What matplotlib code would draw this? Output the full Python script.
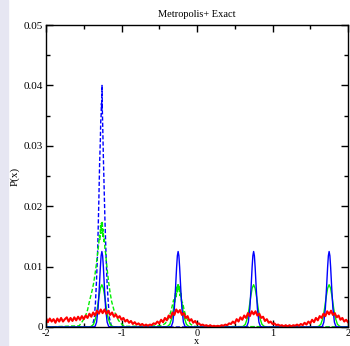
#=================================================================#
#==== Metropolis sampling vs exact distribution P(x) =============#
#=================================================================#
import matplotlib
matplotlib.use('Agg')
import matplotlib.pyplot as plt
import numpy as np

############################## some plot configurations ###################
plt.rc('font', family='Liberation Serif')
plt.rc('axes', labelsize=8, linewidth=1.0, unicode_minus=False)
plt.rc('xtick', labelsize=8, direction='in', top=True)
plt.rc('ytick', labelsize=8, direction='in', right=True)

#------------- peak positions -------------
centres = [-1.26, -0.25, 0.75, 1.75]

#------------- exact (blue solid) : one peak profile -------------
blue_off = [-0.12, -0.09, -0.07, -0.05, -0.035, -0.02, -0.01, 0.0,
            0.01, 0.02, 0.035, 0.05, 0.07, 0.09, 0.12]
blue_val = [0.0, 0.0001, 0.0008, 0.0031, 0.0063, 0.0099, 0.0118, 0.0125,
            0.0118, 0.0099, 0.0063, 0.0031, 0.0008, 0.0001, 0.0]

#------------- green solid : one peak profile -------------
green_off = [-0.18, -0.14, -0.11, -0.08, -0.06, -0.04, -0.02, 0.0,
             0.02, 0.04, 0.06, 0.08, 0.11, 0.14, 0.18]
green_val = [0.0, 0.0001, 0.00045, 0.0016, 0.0031, 0.0049, 0.0064, 0.0070,
             0.0064, 0.0049, 0.0031, 0.0016, 0.00045, 0.0001, 0.0]

#------------- blue dashed : single tall peak (first well only) -------------
bdash_off = [-0.13, -0.10, -0.085, -0.07, -0.055, -0.04, -0.03, -0.02, -0.015,
             -0.01, -0.006, -0.002, 0.002, 0.006, 0.01, 0.015, 0.02, 0.03,
             0.04, 0.055, 0.07, 0.085, 0.10, 0.13]
bdash_val = [0.0, 0.0015, 0.004, 0.008, 0.013, 0.021, 0.027, 0.031, 0.034,
             0.035, 0.037, 0.036, 0.040, 0.036, 0.034, 0.031, 0.028, 0.023,
             0.018, 0.012, 0.007, 0.004, 0.0015, 0.0]

#------------- green dashed : first and second well -------------
gdash1_off = [-0.30, -0.26, -0.22, -0.19, -0.16, -0.13, -0.11, -0.09, -0.075,
              -0.06, -0.05, -0.04, -0.032, -0.025, -0.018, -0.012, -0.006, 0.0,
              0.006, 0.012, 0.018, 0.025, 0.032, 0.04, 0.05, 0.06, 0.075,
              0.09, 0.11, 0.13, 0.16, 0.19, 0.22, 0.26, 0.30]
gdash1_val = [0.0002, 0.0009, 0.0017, 0.0028, 0.0045, 0.0060, 0.0072, 0.0088, 0.0102,
              0.0118, 0.0128, 0.0140, 0.0152, 0.0145, 0.0168, 0.0155, 0.0172, 0.0160,
              0.0175, 0.0150, 0.0162, 0.0142, 0.0148, 0.0130, 0.0122, 0.0108, 0.0090,
              0.0074, 0.0056, 0.0042, 0.0028, 0.0018, 0.0011, 0.0005, 0.0001]
gdash2_off = [-0.22, -0.17, -0.13, -0.10, -0.08, -0.06, -0.045, -0.035, -0.025,
              -0.015, -0.008, 0.0, 0.008, 0.015, 0.025, 0.035, 0.045, 0.06,
              0.08, 0.10, 0.13, 0.17, 0.22]
gdash2_val = [0.0002, 0.0006, 0.0014, 0.0024, 0.0034, 0.0045, 0.0040, 0.0056, 0.0050,
              0.0066, 0.0058, 0.0072, 0.0060, 0.0068, 0.0052, 0.0058, 0.0042, 0.0040,
              0.0028, 0.0019, 0.0010, 0.0004, 0.0001]

#------------- red : noisy broad distribution, step 0.025 from -2 to 2 -------------
red_val = [
 0.0015, 0.0008, 0.0014, 0.0009, 0.0013, 0.0007, 0.0014, 0.0009, 0.0015, 0.0009,
 0.0013, 0.0016, 0.0009, 0.0015, 0.0010, 0.0016, 0.0011, 0.0017, 0.0012, 0.0018,
 0.0013, 0.0019, 0.0015, 0.0022, 0.0017, 0.0024, 0.0019, 0.0027, 0.0022, 0.0029,
 0.0023, 0.0029, 0.0022, 0.0027, 0.0020, 0.0024, 0.0017, 0.0021, 0.0015, 0.0018,
 0.0012, 0.0015, 0.0009, 0.0012, 0.0007, 0.0010, 0.0005, 0.0008, 0.0004, 0.0006,
 0.0003, 0.0005, 0.0002, 0.0004, 0.0002, 0.0004, 0.0003, 0.0006, 0.0005, 0.0009,
 0.0006, 0.0012, 0.0008, 0.0015, 0.0011, 0.0019, 0.0015, 0.0024, 0.0020, 0.0029,
 0.0024, 0.0028, 0.0020, 0.0023, 0.0015, 0.0018, 0.0010, 0.0013, 0.0007, 0.0010,
 0.0005, 0.0006, 0.0003, 0.0004, 0.0002, 0.0003, 0.0001, 0.0003, 0.0001, 0.0002,
 0.0001, 0.0002, 0.0001, 0.0003, 0.0002, 0.0004, 0.0003, 0.0006, 0.0005, 0.0009,
 0.0006, 0.0013, 0.0009, 0.0016, 0.0012, 0.0019, 0.0015, 0.0023, 0.0018, 0.0026,
 0.0021, 0.0026, 0.0019, 0.0022, 0.0015, 0.0017, 0.0010, 0.0013, 0.0007, 0.0009,
 0.0005, 0.0006, 0.0003, 0.0004, 0.0002, 0.0003, 0.0001, 0.0003, 0.0001, 0.0003,
 0.0001, 0.0003, 0.0002, 0.0004, 0.0002, 0.0005, 0.0003, 0.0007, 0.0004, 0.0009,
 0.0006, 0.0012, 0.0008, 0.0015, 0.0011, 0.0018, 0.0015, 0.0022, 0.0018, 0.0026,
 0.0021, 0.0027, 0.0020, 0.0023, 0.0016, 0.0019, 0.0012, 0.0015, 0.0009, 0.0012,
 0.0008]
red_x = np.linspace(-2.0, 2.0, len(red_val))

xticks = [-2, -1, 0, 1, 2]
yticks = [0, 0.01, 0.02, 0.03, 0.04, 0.05]
ytick_labels = ['0', '0.01', '0.02', '0.03', '0.04', '0.05']


#------- place a peak profile at each centre, zero in between -------#
def build(cs, off, val):
    xs = [-2.0]
    ys = [0.0]
    for c in cs:
        xs += [c + o for o in off]
        ys += list(val)
    xs.append(2.0)
    ys.append(0.0)
    return np.array(xs), np.array(ys)


blue_x, blue_y = build(centres, blue_off, blue_val)
green_x, green_y = build(centres, green_off, green_val)
bd_x, bd_y = build(centres[:1], bdash_off, bdash_val)
gd1_x = np.array([centres[0] + o for o in gdash1_off])
gd2_x = np.array([centres[1] + o for o in gdash2_off])
gd_x = np.concatenate([[-2.0], gd1_x, gd2_x, [2.0]])
gd_y = np.concatenate([[0.0], gdash1_val, gdash2_val, [0.0]])

#-------------- plot ------------#
fig = plt.figure(figsize=(3.5, 3.46), dpi=100)
# light strip on the left edge
fig.patches.append(plt.Rectangle((0, 0), 8 / 350, 1, transform=fig.transFigure,
                                 color='#e6e6f2', zorder=0))
ax = fig.add_axes([46 / 350, 19 / 346, 302 / 350, 302 / 346])

ax.plot(bd_x, bd_y, color='#0000ff', linewidth=1.0, dashes=(3, 1.5))
ax.plot(gd_x, gd_y, color='#00ee00', linewidth=1.0, dashes=(3, 1.5))
ax.plot(green_x, green_y, color='#00ee00', linewidth=1.0)
ax.plot(blue_x, blue_y, color='#0000ff', linewidth=1.0)
ax.plot(red_x, red_val, color='#ff0000', linewidth=1.5)

ax.set_xlim(-2, 2)
ax.set_ylim(0, 0.05)
ax.set_xticks(xticks)
ax.set_xticks([-1.5, -0.5, 0.5, 1.5], minor=True)
ax.set_yticks(yticks)
ax.set_yticklabels(ytick_labels)
ax.set_yticks([0.005, 0.015, 0.025, 0.035, 0.045], minor=True)
ax.tick_params(which='major', length=5, width=1.0)
ax.tick_params(axis='y', which='major', pad=2)
ax.tick_params(axis='x', which='major', pad=1.5, labelsize=7.5)
ax.tick_params(which='minor', length=3, width=1.0)

ax.set_title('Metropolis+ Exact', fontsize=7.5, pad=6)
ax.set_xlabel('x', fontsize=7.5, labelpad=-1)
ax.set_ylabel('P(x)', labelpad=3)

fig.savefig('out.png', dpi=100)
